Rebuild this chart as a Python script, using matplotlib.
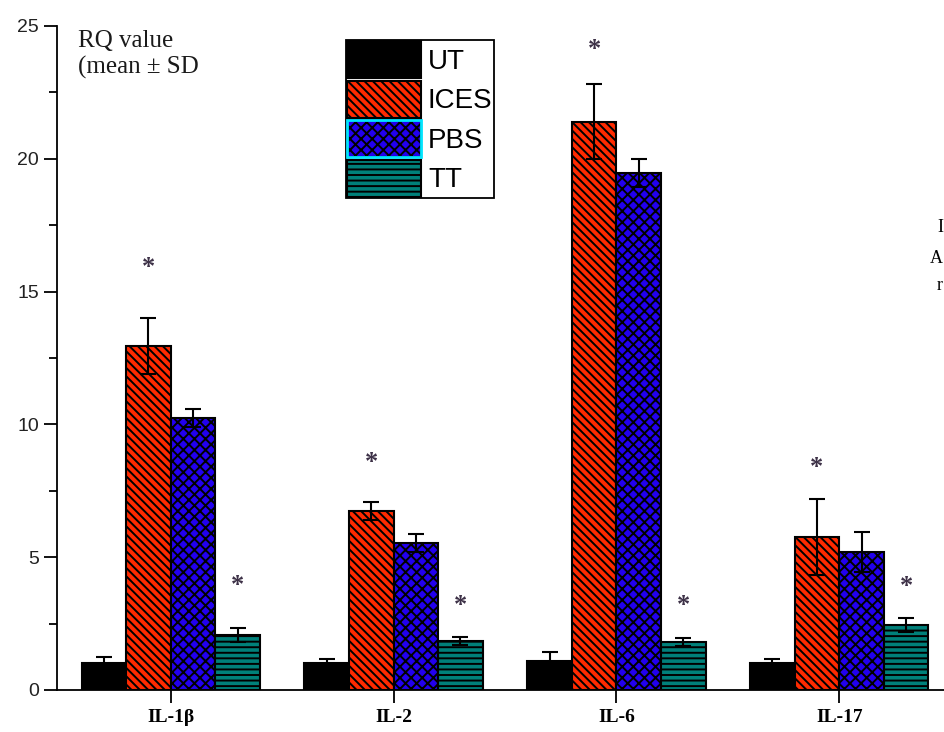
import matplotlib
matplotlib.use("Agg")
import matplotlib.pyplot as plt
from matplotlib.patches import Patch
from matplotlib.legend_handler import HandlerTuple
import numpy as np

# cytokine groups and RQ values (mean, SD)
groups = ["IL-1\u03b2", "IL-2", "IL-6", "IL-17"]
series = ["UT", "ICES", "PBS", "TT"]

ut_mean = [1.0, 1.0, 1.1, 1.0]
ut_sd = [0.24, 0.15, 0.33, 0.16]
ices_mean = [12.95, 6.74, 21.4, 5.76]
ices_sd = [1.05, 0.35, 1.4, 1.42]
pbs_mean = [10.24, 5.53, 19.47, 5.2]
pbs_sd = [0.33, 0.34, 0.52, 0.75]
tt_mean = [2.07, 1.84, 1.82, 2.45]
tt_sd = [0.26, 0.15, 0.15, 0.26]

# significance stars: (group index, series index, y)
stars_group = [0, 0, 1, 1, 2, 2, 3, 3]
stars_series = [1, 3, 1, 3, 1, 3, 1, 3]
stars_y = [15.9, 3.95, 8.55, 3.2, 24.1, 3.2, 8.36, 3.9]

means = [ut_mean, ices_mean, pbs_mean, tt_mean]
sds = [ut_sd, ices_sd, pbs_sd, tt_sd]
colors = ["#000000", "#ff2a00", "#2200ee", "#00807a"]
hatches = [None, "\\\\\\\\", "xxx", "---"]

plt.rcParams["hatch.linewidth"] = 1.4

fig = plt.figure(figsize=(9.44, 7.32), dpi=100)
ax = fig.add_axes([57 / 944, 42 / 732, 1 - 57 / 944, 664 / 732])

x = np.arange(1, len(groups) + 1)
w = 0.2
offsets = [-1.5 * w, -0.5 * w, 0.5 * w, 1.5 * w]

for i in range(4):
    ax.bar(x + offsets[i], means[i], width=w, color=colors[i],
           edgecolor="black", linewidth=1.5, hatch=hatches[i], zorder=2)
    ax.errorbar(x + offsets[i], means[i], yerr=sds[i], fmt="none",
                ecolor="black", elinewidth=1.5, capsize=5.5, capthick=1.5,
                zorder=3)

for g, s, y in zip(stars_group, stars_series, stars_y):
    ax.text(x[g] + offsets[s], y, "*", ha="center", va="center",
            fontsize=19, color="#3e3248", family="Liberation Serif",
            fontweight="bold")

ax.set_xlim(0.49, 4.47)
ax.set_ylim(0, 25)
ax.set_yticks(np.arange(0, 26, 5))
ax.set_yticks(np.arange(2.5, 25, 5), minor=True)
ax.set_xticks(x)
ax.set_xticklabels(groups, family="Liberation Serif", fontsize=14,
                   fontweight="bold")
for lab in ax.get_yticklabels():
    lab.set_family("Liberation Sans")
    lab.set_fontsize(14)
    lab.set_color("#222222")
ax.tick_params(axis="y", which="major", length=9.5, width=1.3, direction="out")
ax.tick_params(axis="y", which="minor", length=5.5, width=1.3, direction="out")
ax.tick_params(axis="x", which="major", length=9.5, width=1.3, direction="out",
               pad=4)
ax.spines["top"].set_visible(False)
ax.spines["right"].set_visible(False)
ax.spines["left"].set_linewidth(1.3)
ax.spines["bottom"].set_linewidth(1.3)

ax.text(78 / 944, 1 - 30 / 732, "RQ value\n(mean \u00b1 SD",
        transform=fig.transFigure, ha="left", va="top",
        family="Liberation Serif", fontsize=18, color="#1a1a1a",
        linespacing=1.2)

handles = []
for i in range(4):
    p = Patch(facecolor=colors[i], edgecolor="black", linewidth=1.5,
              hatch=hatches[i])
    if series[i] == "PBS":
        p = (p, Patch(facecolor="none", edgecolor="#00e5ff", linewidth=2))
    handles.append(p)
leg = ax.legend(handles=handles, labels=series, loc="upper left",
                bbox_to_anchor=(346 / 944, 1 - 40 / 732),
                bbox_transform=fig.transFigure, fancybox=False,
                framealpha=1, edgecolor="black", borderpad=0.05,
                handlelength=2.65, handleheight=1.66, labelspacing=0.1,
                handletextpad=0.25, borderaxespad=0,
                handler_map={tuple: HandlerTuple(ndivide=1)},
                prop={"family": "Liberation Sans", "size": 20})
leg.get_frame().set_linewidth(1.3)

# caption fragments at the right edge
for yy, t in zip([228, 258, 286], ["I", "A", "r"]):
    fig.text(943 / 944, 1 - yy / 732, t, family="Liberation Serif",
             fontsize=13, va="center", ha="right")

fig.savefig("out.png", dpi=100)
